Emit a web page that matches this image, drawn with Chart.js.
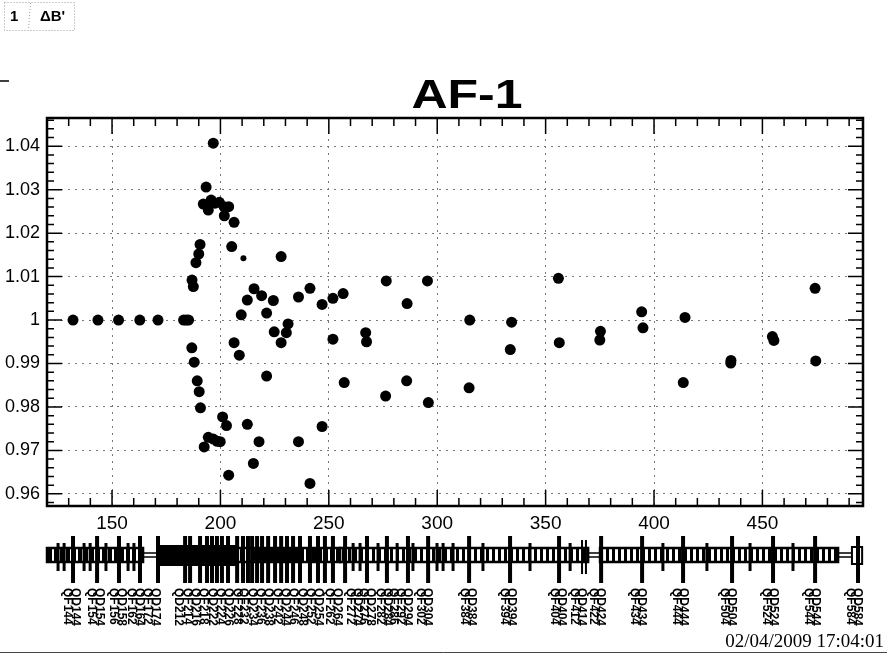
<!DOCTYPE html>
<html>
<head>
<meta charset="utf-8">
<script src="https://cdn.jsdelivr.net/npm/chart.js@4.4.1/dist/chart.umd.min.js"></script>
<style>
html, body { margin: 0; padding: 0; background: #fff; }
#myChart { display: block; }
</style>
</head>
<body>
<canvas id="myChart" width="887" height="657"></canvas>
<script>
// Position along the line (x) and relative value (y)
var posS = [132.0, 143.5, 153.0, 162.8, 171.2, 183.0, 184.2, 185.3, 186.8, 186.9,
    187.5, 187.9, 188.7, 189.3, 190.0, 190.2, 190.6, 190.8, 192.1, 192.5,
    193.4, 194.4, 194.4, 195.7, 196.7, 196.7, 197.5, 198.5, 199.5, 199.9,
    201.0, 201.7, 201.8, 202.8, 203.8, 203.8, 205.2, 206.3, 206.3, 208.7,
    209.6, 212.4, 212.4, 215.2, 215.5, 217.8, 219.0, 221.3, 221.3, 224.4,
    224.8, 228.0, 228.0, 230.4, 231.2, 236.0, 236.0, 241.3, 241.3, 246.9,
    246.9, 251.9, 251.9, 256.6, 257.1, 267.0, 267.4, 276.5, 276.2, 286.1,
    285.9, 295.5, 295.9, 315.0, 314.7, 334.3, 333.7, 355.9, 356.3, 375.3,
    375.0, 394.3, 394.9, 414.3, 413.5, 435.4, 435.5, 454.6, 455.3, 474.3,
    474.6];
var ratio = [1.0000, 1.0000, 1.0000, 1.0000, 1.0000, 1.0000, 1.0000, 1.0000, 0.9936, 1.0092,
    1.0077, 0.9903, 1.0132, 0.9860, 1.0152, 0.9835, 1.0174, 0.9798, 1.0267, 0.9708,
    1.0306, 1.0253, 0.9730, 1.0276, 1.0407, 0.9726, 1.0269, 0.9721, 1.0271, 0.9720,
    0.9777, 1.0261, 1.0240, 0.9757, 1.0261, 0.9643, 1.0169, 1.0225, 0.9948, 0.9919,
    1.0012, 1.0046, 0.9760, 0.9670, 1.0072, 0.9720, 1.0056, 1.0016, 0.9871, 1.0045,
    0.9973, 1.0146, 0.9948, 0.9971, 0.9991, 1.0053, 0.9720, 1.0073, 0.9624, 1.0036,
    0.9755, 1.0050, 0.9956, 1.0061, 0.9856, 0.9971, 0.9950, 1.0090, 0.9825, 1.0038,
    0.9860, 1.0090, 0.9810, 1.0000, 0.9844, 0.9995, 0.9932, 1.0096, 0.9948, 0.9974,
    0.9954, 1.0019, 0.9982, 1.0006, 0.9856, 0.9901, 0.9907, 0.9962, 0.9953, 1.0073,
    0.9906];
// one point drawn smaller
var smallS = [210.6];
var smallRatio = [1.0142];

// Beam line sketch under the axis
var segStart = [120.0, 164.3, 172.1, 207.7, 255.2, 369.6, 375.1, 484.9, 491.3];
var segEnd = [164.3, 171.2, 207.7, 255.2, 369.6, 375.1, 484.9, 491.3, 496.0];
var segKind = ['dense', 'drift', 'solid', 'dense', 'ladder', 'drift', 'ladder', 'drift', 'box'];
var quadS = [132.0, 143.1, 153.2, 162.9, 171.2, 183.7, 186.0, 190.6, 193.8, 196.1,
    198.4, 200.7, 203.5, 207.7, 210.4, 212.7, 214.6, 216.9, 219.2, 222.0,
    225.2, 228.0, 230.7, 233.5, 236.7, 241.3, 245.0, 248.2, 251.9, 257.5,
    267.6, 276.8, 286.5, 295.8, 314.7, 333.6, 356.2, 375.6, 394.5, 413.4,
    436.0, 454.9, 474.3, 494.1];
var thinS = [366.8, 368.6];
var elemS = [125.1, 127.9, 137.1, 139.9, 147.2, 157.4, 160.1, 261.2, 264.4, 272.7,
    281.5, 288.8, 299.9, 307.3, 302.7, 321.1, 342.8, 361.3, 404.1, 424.4,
    444.3, 464.1];
var labelS = [129.2, 132.9, 140.3, 144.0, 150.5, 154.2, 158.8, 162.5, 166.1, 169.8,
    180.4, 184.6, 188.3, 192.0, 196.1, 199.8, 203.5, 207.7,
    210.4, 214.6, 218.3, 222.0, 226.1, 229.8, 233.5, 237.6, 241.3, 245.0,
    250.1, 253.8, 259.8, 263.0, 265.8, 269.0, 273.6, 276.8, 279.6, 282.8, 286.1,
    292.1, 295.3, 312.4, 315.6, 330.8, 334.0, 353.9, 357.1, 363.1, 366.3,
    371.9, 375.1, 390.8, 394.0, 410.1, 413.4, 432.3, 435.5, 451.7, 454.9,
    471.0, 474.3, 490.4, 493.6];
var labelNames = ['QF144', 'QD144', 'QF154', 'QD154', 'QF156', 'QD158', 'QF162', 'QD164', 'QF172', 'QD174',
    'QD212', 'QF214', 'QD216', 'QF218', 'QD222', 'QF224', 'QD226', 'QF228',
    'QF232', 'QD234', 'QF236', 'QD238', 'QF242', 'QD244', 'QF246', 'QD248', 'QF252', 'QD254',
    'QF262', 'QD264', 'QF272', 'QD274', 'QF276', 'QD278', 'QF282', 'QD284', 'QF286', 'QF292', 'QD294',
    'QF302', 'QD304', 'QF384', 'QD384', 'QF394', 'QD394', 'QF404', 'QD404', 'QF412', 'QD414',
    'QF422', 'QD424', 'QF434', 'QD434', 'QF444', 'QD444', 'QF504', 'QD504', 'QF524', 'QD524',
    'QF544', 'QD544', 'QF584', 'QD584'];

var xMin = 120, xMax = 496.4;
var yMin = 0.9572, yMax = 1.0465;

var font = 'Liberation Sans, Arial, Helvetica, sans-serif';

function isMajorX(v) { return Math.abs(v / 50 - Math.round(v / 50)) < 1e-6; }
function isMajorY(v) { return Math.abs(v * 100 - Math.round(v * 100)) < 1e-6; }

function stripes(ctx, bar, period) {
    var c = document.createElement('canvas');
    c.width = period; c.height = 4;
    var g = c.getContext('2d');
    g.fillStyle = '#fff'; g.fillRect(0, 0, period, 4);
    g.fillStyle = '#000'; g.fillRect(0, 0, bar, 4);
    return ctx.createPattern(c, 'repeat');
}

// frame, inside ticks, title, beam line and page texts
var rootPlugin = {
    id: 'rootPlot',
    afterDraw: function (chart) {
        var ctx = chart.ctx, a = chart.chartArea;
        var xs = chart.scales.x, ys = chart.scales.y;
        ctx.save();
        ctx.strokeStyle = '#000';
        ctx.lineWidth = 1.5;
        ctx.beginPath();
        ys.ticks.forEach(function (t) {
            var p = ys.getPixelForValue(t.value);
            var len = isMajorY(t.value) ? 15 : 7;
            ctx.moveTo(a.left, p); ctx.lineTo(a.left + len, p);
            ctx.moveTo(a.right, p); ctx.lineTo(a.right - len, p);
        });
        xs.ticks.forEach(function (t) {
            var p = xs.getPixelForValue(t.value);
            var len = isMajorX(t.value) ? 16 : 8;
            ctx.moveTo(p, a.bottom); ctx.lineTo(p, a.bottom - len);
            ctx.moveTo(p, a.top); ctx.lineTo(p, a.top + len);
        });
        ctx.stroke();
        ctx.lineWidth = 2.5;
        ctx.strokeRect(a.left, a.top, a.right - a.left, a.bottom - a.top);

        // title, wide bold face
        ctx.fillStyle = '#000';
        ctx.font = 'bold 40px ' + font;
        ctx.textAlign = 'center';
        ctx.textBaseline = 'alphabetic';
        ctx.save();
        ctx.translate(467, 108);
        ctx.scale(1.25, 1);
        ctx.fillText('AF-1', 0, 0);
        ctx.restore();

        // beam line
        var yc = 555;
        for (var i = 0; i < segStart.length; i++) {
            var x0 = xs.getPixelForValue(segStart[i]), x1 = xs.getPixelForValue(segEnd[i]);
            var k = segKind[i];
            if (k === 'solid') {
                ctx.fillStyle = '#000';
                ctx.fillRect(x0, yc - 10, x1 - x0, 21);
            } else if (k === 'dense' || k === 'ladder') {
                ctx.fillStyle = stripes(ctx, k === 'dense' ? 4 : 3, 6);
                ctx.fillRect(x0, yc - 7, x1 - x0, 14);
                ctx.lineWidth = 2.5;
                ctx.strokeRect(x0, yc - 7, x1 - x0, 14);
            } else if (k === 'drift') {
                ctx.lineWidth = 1.5;
                ctx.beginPath();
                ctx.moveTo(x0, yc - 2); ctx.lineTo(x1, yc - 2);
                ctx.moveTo(x0, yc + 2); ctx.lineTo(x1, yc + 2);
                ctx.stroke();
            } else {
                ctx.lineWidth = 2;
                ctx.strokeRect(x0, yc - 8, x1 - x0, 17);
            }
        }
        ctx.fillStyle = '#000';
        elemS.forEach(function (s) {
            ctx.fillRect(xs.getPixelForValue(s) - 1.5, yc - 12, 3, 28);
        });
        thinS.forEach(function (s) {
            ctx.fillRect(xs.getPixelForValue(s) - 1, yc - 15, 2, 34);
        });
        quadS.forEach(function (s) {
            ctx.fillRect(xs.getPixelForValue(s) - 2, yc - 19, 4, 47);
        });

        // element names, rotated
        ctx.font = 'bold 12px ' + font;
        ctx.textAlign = 'left';
        ctx.textBaseline = 'middle';
        for (var j = 0; j < labelS.length; j++) {
            ctx.save();
            ctx.translate(xs.getPixelForValue(labelS[j]), 588);
            ctx.rotate(Math.PI / 2);
            ctx.fillText(labelNames[j], 0, 0);
            ctx.restore();
        }

        // pad header and date stamp
        ctx.font = 'bold 15px ' + font;
        ctx.textBaseline = 'middle';
        ctx.fillText('1', 10, 17);
        ctx.fillText('\u0394B\'', 40, 17);
        ctx.strokeStyle = '#999';
        ctx.lineWidth = 1;
        ctx.setLineDash([1, 2]);
        ctx.strokeRect(4.5, 2.5, 70, 28);
        ctx.beginPath();
        ctx.moveTo(30.5, 3); ctx.lineTo(28.5, 30);
        ctx.stroke();
        ctx.setLineDash([]);
        ctx.strokeStyle = '#000';
        ctx.lineWidth = 1.5;
        ctx.beginPath();
        ctx.moveTo(0, 81); ctx.lineTo(9, 81);
        ctx.stroke();

        ctx.font = '19px Liberation Serif, Times New Roman, serif';
        ctx.textAlign = 'right';
        ctx.textBaseline = 'alphabetic';
        ctx.fillText('02/04/2009 17:04:01', 884, 647);

        ctx.strokeStyle = '#444';
        ctx.lineWidth = 1;
        ctx.beginPath();
        ctx.moveTo(0, 652.5); ctx.lineTo(887, 652.5);
        ctx.stroke();
        ctx.restore();
    }
};

var points = posS.map(function (s, i) { return { x: s, y: ratio[i] }; });
var smallPoints = smallS.map(function (s, i) { return { x: s, y: smallRatio[i] }; });

var ctx = document.getElementById('myChart').getContext('2d');
var myChart = new Chart(ctx, {
    type: 'scatter',
    data: {
        datasets: [{
            label: 'AF-1',
            data: points,
            pointRadius: 5.5,
            pointBackgroundColor: '#000',
            pointBorderWidth: 0
        }, {
            label: 'AF-1 small',
            data: smallPoints,
            pointRadius: 3,
            pointBackgroundColor: '#000',
            pointBorderWidth: 0
        }]
    },
    plugins: [rootPlugin],
    options: {
        responsive: false,
        animation: false,
        devicePixelRatio: 1,
        layout: { padding: { left: 0, right: 24, top: 118, bottom: 0 } },
        plugins: {
            legend: { display: false },
            tooltip: { enabled: false },
            title: { display: false }
        },
        scales: {
            x: {
                type: 'linear',
                min: xMin,
                max: xMax,
                afterFit: function (s) { s.height = 151; },
                ticks: {
                    stepSize: 10,
                    includeBounds: false,
                    autoSkip: false,
                    maxRotation: 0,
                    padding: 6,
                    color: '#000',
                    font: { family: font, size: 19 },
                    callback: function (v) { return isMajorX(v) ? String(v) : ''; }
                },
                grid: {
                    drawTicks: false,
                    lineWidth: 1,
                    color: function (c) { return c.tick && isMajorX(c.tick.value) ? '#777' : 'rgba(0,0,0,0)'; }
                },
                border: { display: false, dash: [2, 5] }
            },
            y: {
                min: yMin,
                max: yMax,
                afterFit: function (s) { s.width = 47; },
                ticks: {
                    stepSize: 0.002,
                    includeBounds: false,
                    autoSkip: false,
                    padding: 7,
                    color: '#000',
                    font: { family: font, size: 18 },
                    callback: function (v) { return isMajorY(v) ? String(Number(v.toFixed(2))) : ''; }
                },
                grid: {
                    drawTicks: false,
                    lineWidth: 1,
                    color: function (c) { return c.tick && isMajorY(c.tick.value) ? '#777' : 'rgba(0,0,0,0)'; }
                },
                border: { display: false, dash: [2, 5] }
            }
        }
    }
});
</script>
</body>
</html>
